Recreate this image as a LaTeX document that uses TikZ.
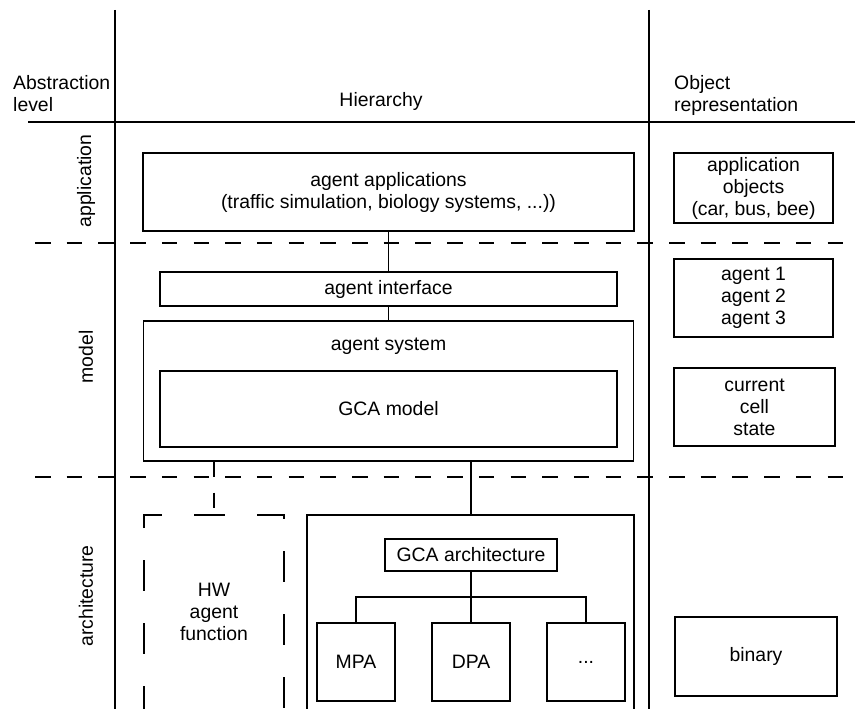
\documentclass[tikz,border=0pt]{standalone}
\usepackage{fontspec}
\setmainfont{Liberation Sans}
\begin{document}
\begin{tikzpicture}[x=1pt,y=-1pt,
  every node/.style={font=\fontsize{19.4pt}{22pt}\selectfont, inner sep=0pt},
  ln/.style={line width=1.4pt, black},
  bx/.style={draw, line width=1.4pt, align=center},
  lvl/.style={line width=1.5pt, dash pattern=on 15.5pt off 16.2pt},
  hwdash/.style={line width=1.5pt, dash pattern=on 31pt off 32pt},
  txt/.style={align=center}
]
\useasboundingbox (0,0) rectangle (855,709);

% frame lines
\draw[ln] (115,10) -- (115,709);
\draw[ln] (649,10) -- (649,709);
\draw[ln] (28,122) -- (855,122);
\draw[lvl] (35,243) -- (845,243);
\draw[lvl] (35,477) -- (845,477);

% headers
\node[align=left, anchor=west] (abs) at (13,94) {Abstraction\\level};
\node (hier) at (381,101) {Hierarchy};
\node[align=left, anchor=west] (objr) at (674,95) {Object\\representation};

% level labels
\node[rotate=90] (lapp) at (86,181) {application};
\node[rotate=90] (lmod) at (86,357) {model};
\node[rotate=90] (larc) at (86,596) {architecture};

% application level
\node[bx, minimum width=491pt, minimum height=78pt] (apps) at (388.5,192)
  {agent applications\\(traffic simulation, biology systems, ...))};
\node[bx, minimum width=159pt, minimum height=70pt] (appobj) at (753.5,188)
  {application\\objects\\(car, bus, bee)};

% model level
\node[bx, minimum width=457pt, minimum height=34pt] (iface) at (388.5,289) {agent interface};
\node[bx, minimum width=490pt, minimum height=140pt] (sys) at (388.5,391) {};
\node (sysl) at (388.5,346) {agent system};
\node[bx, minimum width=457pt, minimum height=76pt] (gcam) at (388.5,409) {GCA model};
\node[bx, minimum width=159pt, minimum height=78pt] (agents) at (753.5,298)
  {agent 1\\agent 2\\agent 3};
\node[bx, minimum width=161pt, minimum height=78pt] (cell) at (754.5,407)
  {current\\cell\\state};

\draw[ln] (apps.south) -- (iface.north);
\draw[ln] (iface.south) -- (sys.north);

% architecture level
\coordinate (hwtop) at (214,515);
\coordinate (arctop) at (471,515);
\draw[ln] (307,709) -- (307,515) -- (634,515) -- (634,709);
\draw[hwdash] (144,528) -- (144,515) -- (284,515) -- (284,709);
\draw[hwdash, dash phase=31pt] (144,528) -- (144,709);
\node[txt] (hw) at (214,612) {HW\\agent\\function};

\draw[line width=1.5pt, dash pattern=on 15pt off 16pt] (sys.south -| hwtop) -- (hwtop);
\draw[ln] (sys.south -| arctop) -- (arctop);

\node[bx, minimum width=172pt, minimum height=32pt] (gcaa) at (471,555) {GCA architecture};
\node[bx, minimum width=78pt, minimum height=78pt] (mpa) at (356,662) {MPA};
\node[bx, minimum width=78pt, minimum height=78pt] (dpa) at (471,662) {DPA};
\node[bx, minimum width=78pt, minimum height=78pt] (dots) at (586,662) {...};
\coordinate (bus) at (471,597);
\draw[ln] (gcaa.south) -- (dpa.north);
\draw[ln] (mpa.north) |- (bus) -| (dots.north);

\node[bx, minimum width=162pt, minimum height=79pt] (bin) at (756,656.5) {binary};
\end{tikzpicture}
\end{document}
